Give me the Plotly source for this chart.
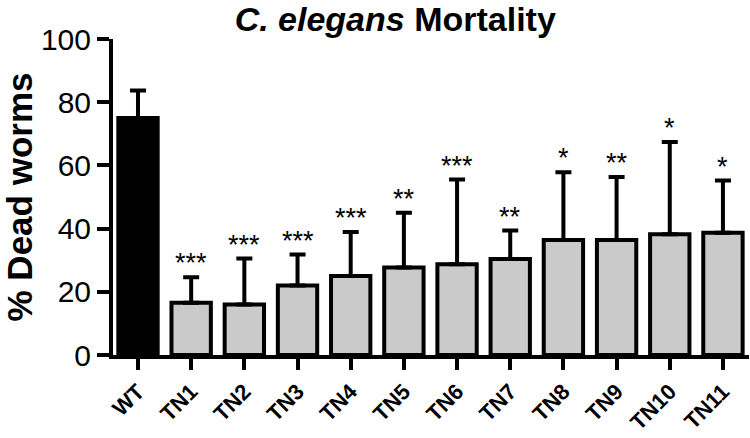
import plotly.graph_objects as go

categories = ["WT", "TN1", "TN2", "TN3", "TN4", "TN5", "TN6", "TN7", "TN8", "TN9", "TN10", "TN11"]
mortality = [75.0, 16.5, 16.0, 22.0, 25.0, 27.7, 28.7, 30.4, 36.4, 36.4, 38.2, 38.7]
error_top = [83.7, 24.6, 30.5, 31.8, 38.9, 45.0, 55.5, 39.4, 57.8, 56.3, 67.4, 55.2]
significance = ["", "***", "***", "***", "***", "**", "***", "**", "*", "**", "*", "*"]

err_plus = [t - v for t, v in zip(error_top, mortality)]
colors = ["#000000"] + ["#cacaca"] * (len(categories) - 1)
FONT = "Liberation Sans, Arial"

fig = go.Figure()
fig.add_trace(go.Bar(
    x=categories, y=mortality, width=0.74,
    marker=dict(color=colors, line=dict(color="#000000", width=4)),
    error_y=dict(type="data", array=err_plus, arrayminus=[0] * len(categories),
                 symmetric=False, color="#000000", thickness=4, width=8),
    showlegend=False,
))

for c, t, s in zip(categories, error_top, significance):
    if s:
        fig.add_annotation(x=c, y=t, text=s, showarrow=False, yanchor="bottom",
                           yshift=-3, font=dict(family=FONT, size=27, color="#000"))

fig.update_layout(
    width=750, height=438,
    margin=dict(l=113, r=1, t=39, b=83),
    paper_bgcolor="white", plot_bgcolor="white",
    title=dict(text="<b><i>C. elegans</i> Mortality</b>", x=0.527, xanchor="center",
               y=1 - 19 / 438, yanchor="middle",
               font=dict(family=FONT, size=34, color="#000")),
    font=dict(family=FONT, color="#000"),
)
fig.update_xaxes(
    range=[-0.47, 11.49], showline=True, linewidth=4, linecolor="#000",
    ticks="outside", ticklen=11, tickwidth=4, tickcolor="#000",
    tickangle=-45, tickfont=dict(family=FONT, size=22, color="#000"),
    ticklabelstandoff=0, automargin=False,
    tickprefix="<b>", ticksuffix="</b>", showgrid=False, zeroline=False,
)
fig.update_yaxes(
    range=[0, 100], tickvals=[0, 20, 40, 60, 80, 100],
    showline=True, linewidth=4, linecolor="#000",
    ticks="outside", ticklen=12, tickwidth=4, tickcolor="#000",
    tickfont=dict(family=FONT, size=30, color="#000"),
    title=dict(text="<b>% Dead worms</b>", font=dict(family=FONT, size=35, color="#000"),
               standoff=0),
    showgrid=False, zeroline=False, automargin=False,
)

fig.write_html("out.html", config={"displayModeBar": False},
               post_script="document.body.style.margin='0';")
